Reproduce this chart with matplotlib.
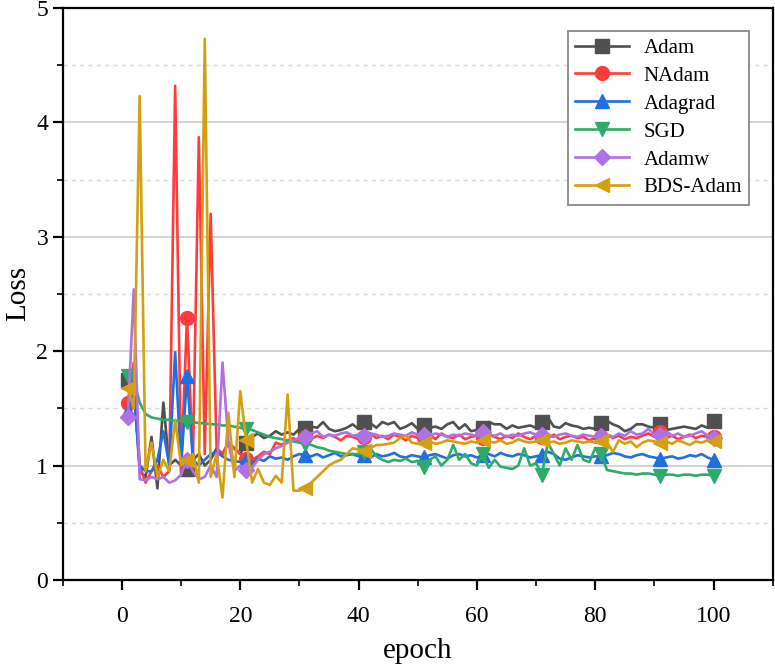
import numpy as np
import matplotlib
matplotlib.use("Agg")
import matplotlib.pyplot as plt
from matplotlib.ticker import MultipleLocator

# loss per epoch (1..100)
epochs = np.arange(1, 101)

adam = [1.75, 1.70, 0.95, 0.90, 1.25, 0.80, 1.55, 1.00, 1.05, 1.00,
        0.97, 1.05, 1.10, 1.00, 1.05, 1.15, 1.10, 1.20, 1.15, 1.10,
        1.20, 1.25, 1.28, 1.24, 1.26, 1.30, 1.27, 1.29, 1.27, 1.32,
        1.33, 1.34, 1.33, 1.38, 1.32, 1.30, 1.31, 1.33, 1.36, 1.32,
        1.38, 1.37, 1.33, 1.38, 1.36, 1.38, 1.32, 1.34, 1.37, 1.32,
        1.35, 1.33, 1.34, 1.32, 1.36, 1.38, 1.32, 1.36, 1.30, 1.31,
        1.33, 1.38, 1.36, 1.36, 1.32, 1.35, 1.33, 1.34, 1.35, 1.33,
        1.38, 1.42, 1.34, 1.33, 1.37, 1.35, 1.34, 1.32, 1.33, 1.32,
        1.37, 1.39, 1.36, 1.34, 1.30, 1.32, 1.36, 1.36, 1.34, 1.33,
        1.36, 1.31, 1.32, 1.33, 1.34, 1.33, 1.32, 1.35, 1.33, 1.39]

nadam = [1.55, 1.90, 1.00, 0.85, 0.95, 1.00, 0.90, 0.95, 4.32, 0.95,
         2.29, 1.05, 3.87, 1.10, 3.20, 1.15, 1.10, 1.20, 1.15, 1.10,
         1.06, 1.05, 1.08, 1.12, 1.10, 1.20, 1.18, 1.22, 1.24, 1.20,
         1.25, 1.23, 1.26, 1.24, 1.27, 1.25, 1.22, 1.26, 1.25, 1.23,
         1.25, 1.28, 1.24, 1.26, 1.23, 1.27, 1.25, 1.22, 1.26, 1.24,
         1.25, 1.27, 1.23, 1.28, 1.25, 1.24, 1.27, 1.23, 1.25, 1.26,
         1.24, 1.27, 1.25, 1.23, 1.26, 1.24, 1.28, 1.25, 1.23, 1.26,
         1.25, 1.24, 1.27, 1.23, 1.25, 1.26, 1.24, 1.25, 1.22, 1.24,
         1.25, 1.27, 1.24, 1.26, 1.23, 1.25, 1.24, 1.26, 1.28, 1.25,
         1.29, 1.24, 1.26, 1.23, 1.25, 1.27, 1.24, 1.26, 1.25, 1.25]

adagrad = [1.48, 1.65, 1.00, 0.95, 0.95, 1.05, 1.30, 1.00, 1.99, 1.00,
           1.78, 1.05, 1.00, 1.05, 1.10, 1.12, 1.08, 1.05, 1.04, 1.03,
           1.05, 1.02, 1.06, 1.04, 1.08, 1.06, 1.07, 1.05, 1.08, 1.10,
           1.09, 1.08, 1.10, 1.07, 1.09, 1.11, 1.08, 1.09, 1.10, 1.08,
           1.09, 1.07, 1.10, 1.08, 1.09, 1.11, 1.08, 1.07, 1.09, 1.08,
           1.07, 1.09, 1.10, 1.08, 1.06, 1.09, 1.10, 1.08, 1.09, 1.07,
           1.09, 1.10, 1.08, 1.11, 1.09, 1.08, 1.10, 1.09, 1.07, 1.08,
           1.09, 1.12, 1.10, 1.06, 1.05, 1.07, 1.09, 1.08, 1.07, 1.08,
           1.08, 1.09, 1.11, 1.10, 1.08, 1.07, 1.09, 1.10, 1.08, 1.07,
           1.06, 1.07, 1.08, 1.06, 1.07, 1.09, 1.08, 1.10, 1.07, 1.05]

sgd = [1.78, 1.75, 1.55, 1.45, 1.42, 1.41, 1.40, 1.40, 1.39, 1.39,
       1.38, 1.38, 1.37, 1.37, 1.36, 1.36, 1.35, 1.35, 1.34, 1.33,
       1.32, 1.31, 1.29, 1.27, 1.25, 1.24, 1.23, 1.22, 1.21, 1.20,
       1.19, 1.18, 1.16, 1.15, 1.13, 1.12, 1.11, 1.10, 1.10, 1.10,
       1.12, 1.15, 1.08, 1.05, 1.03, 1.05, 1.04, 1.06, 1.03, 1.04,
       0.99, 1.05, 1.08, 1.00, 1.05, 1.18, 1.05, 1.10, 1.02, 1.00,
       1.10, 0.98, 1.05, 0.99, 0.98, 0.97, 1.00, 1.15, 1.00, 1.02,
       0.92, 1.20, 1.10, 1.00, 1.15, 1.05, 1.18, 1.05, 1.03, 1.15,
       1.10, 0.96, 0.95, 0.94, 0.93, 0.93, 0.92, 0.93, 0.93, 0.92,
       0.91, 0.92, 0.92, 0.91, 0.92, 0.92, 0.91, 0.92, 0.92, 0.91]

adamw = [1.42, 2.54, 0.88, 0.87, 0.90, 0.88, 0.90, 0.85, 0.87, 0.92,
         1.05, 0.95, 0.88, 0.90, 1.00, 0.90, 1.90, 1.20, 0.95, 1.00,
         0.96, 0.98, 1.05, 1.10, 1.12, 1.15, 1.17, 1.20, 1.22, 1.24,
         1.25, 1.28, 1.30, 1.25, 1.27, 1.26, 1.28, 1.29, 1.26, 1.27,
         1.26, 1.28, 1.27, 1.25, 1.26, 1.28, 1.27, 1.26, 1.29, 1.27,
         1.27, 1.26, 1.28, 1.27, 1.25, 1.27, 1.26, 1.28, 1.27, 1.26,
         1.29, 1.27, 1.26, 1.28, 1.25, 1.27, 1.26, 1.28, 1.29, 1.27,
         1.27, 1.26, 1.25, 1.27, 1.28, 1.26, 1.25, 1.27, 1.26, 1.25,
         1.26, 1.27, 1.25, 1.28, 1.26, 1.30, 1.27, 1.28, 1.32, 1.27,
         1.27, 1.30, 1.26, 1.28, 1.25, 1.26, 1.28, 1.30, 1.26, 1.24]

bds_adam = [1.68, 1.50, 4.23, 0.95, 1.20, 0.90, 1.05, 0.95, 1.40, 1.00,
            1.05, 1.10, 0.85, 4.73, 0.90, 1.10, 0.72, 1.46, 0.90, 1.65,
            1.22, 0.85, 0.97, 0.85, 0.83, 0.91, 0.85, 1.62, 0.78, 0.78,
            0.80, 0.85, 0.90, 0.95, 1.00, 1.03, 1.05, 1.10, 1.15, 1.14,
            1.13, 1.15, 1.18, 1.18, 1.19, 1.20, 1.24, 1.26, 1.20, 1.19,
            1.20, 1.21, 1.19, 1.20, 1.22, 1.21, 1.20, 1.19, 1.21, 1.20,
            1.22, 1.21, 1.20, 1.22, 1.19, 1.20, 1.23, 1.21, 1.20, 1.21,
            1.22, 1.20, 1.21, 1.19, 1.20, 1.22, 1.21, 1.20, 1.21, 1.20,
            1.21, 1.20, 1.12, 1.22, 1.19, 1.21, 1.16, 1.20, 1.22, 1.21,
            1.20, 1.21, 1.19, 1.22, 1.20, 1.18, 1.21, 1.20, 1.22, 1.21]

series = [
    ("Adam", adam, "#505050", "s"),
    ("NAdam", nadam, "#ff3b3b", "o"),
    ("Adagrad", adagrad, "#1f6fe0", "^"),
    ("SGD", sgd, "#2eab6a", "v"),
    ("Adamw", adamw, "#b070e6", "D"),
    ("BDS-Adam", bds_adam, "#d4a00f", "<"),
]

plt.rcParams["font.family"] = ["Liberation Serif", "DejaVu Serif"]

fig = plt.figure(figsize=(7.75, 6.65), dpi=100)
ax = fig.add_axes([0.081, 0.128, 0.916, 0.860])

marks = list(range(0, 100, 10)) + [99]
for name, vals, col, mk in series:
    ms = 8 if mk == "D" else 10
    ax.plot(epochs, vals, color=col, lw=1.9, marker=mk, markersize=ms,
            markevery=marks, label=name)

ax.set_xlim(-10, 110)
ax.set_ylim(0, 5)
ax.xaxis.set_major_locator(MultipleLocator(20))
ax.xaxis.set_minor_locator(MultipleLocator(10))
ax.yaxis.set_major_locator(MultipleLocator(1))
ax.yaxis.set_minor_locator(MultipleLocator(0.5))

ax.grid(True, which="major", axis="y", color="#cccccc", lw=1.2)
ax.grid(True, which="minor", axis="y", color="#dadada", lw=1.0, ls=(0, (3, 3)))
ax.set_axisbelow(True)

for s in ax.spines.values():
    s.set_linewidth(1.6)
    s.set_color("black")
ax.tick_params(which="major", direction="out", length=7, width=1.6, labelsize=17)
ax.tick_params(which="minor", direction="out", length=4, width=1.2)
ax.tick_params(axis="x", pad=12)

ax.set_xlabel("epoch", fontsize=21, labelpad=8)
ax.set_ylabel("Loss", fontsize=21)

leg = ax.legend(loc="upper right", bbox_to_anchor=(0.982, 0.978), fontsize=15,
                fancybox=False, framealpha=1, edgecolor="#888888",
                handlelength=2.6, borderpad=0.35, labelspacing=0.4,
                handletextpad=0.7)
leg.get_frame().set_linewidth(1.3)

fig.savefig("out.png", dpi=100)
